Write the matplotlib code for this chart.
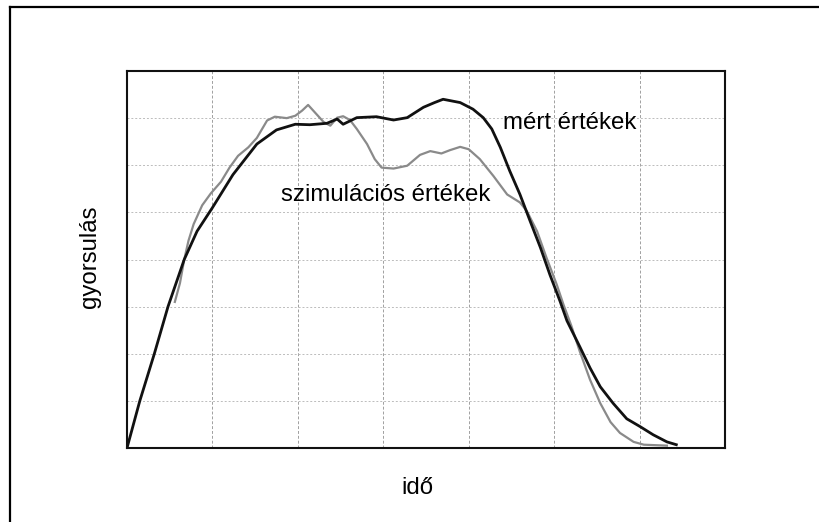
import matplotlib
matplotlib.use("Agg")
import matplotlib.pyplot as plt
from matplotlib.lines import Line2D

mert_x = [0, 0.15, 0.32, 0.48, 0.67, 0.82, 1.0, 1.24, 1.52, 1.75, 1.97, 2.14, 2.34, 2.46,
          2.53, 2.69, 2.92, 3.12, 3.28, 3.47, 3.60, 3.70, 3.90, 4.05, 4.17, 4.27, 4.37,
          4.48, 4.60, 4.72, 4.84, 4.95, 5.07, 5.15, 5.30, 5.42, 5.54, 5.69, 5.85, 6.01,
          6.16, 6.32, 6.43]
mert_y = [0, 1.0, 2.0, 3.0, 4.0, 4.6, 5.1, 5.8, 6.45, 6.75, 6.87, 6.86, 6.89, 6.98,
          6.87, 7.01, 7.03, 6.96, 7.01, 7.23, 7.33, 7.40, 7.33, 7.19, 7.01, 6.77, 6.38,
          5.88, 5.38, 4.81, 4.25, 3.68, 3.11, 2.70, 2.15, 1.70, 1.30, 0.95, 0.62, 0.45,
          0.28, 0.13, 0.07]

# Simulated curve (szimulációs értékek)
szim_x = [0.56, 0.62, 0.67, 0.72, 0.78, 0.88, 0.98, 1.10, 1.20, 1.30, 1.42, 1.52, 1.64,
          1.73, 1.87, 1.97, 2.05, 2.12, 2.20, 2.30, 2.38, 2.46, 2.53, 2.61, 2.69, 2.81,
          2.90, 2.98, 3.12, 3.28, 3.43, 3.55, 3.68, 3.78, 3.90, 4.00, 4.13, 4.29, 4.45,
          4.60, 4.68, 4.80, 4.91, 5.03, 5.11, 5.20, 5.30, 5.42, 5.54, 5.66, 5.77, 5.93,
          6.05, 6.32]
szim_y = [3.1, 3.5, 4.0, 4.4, 4.75, 5.15, 5.4, 5.65, 5.95, 6.2, 6.38, 6.58, 6.95,
          7.03, 7.0, 7.05, 7.16, 7.28, 7.12, 6.92, 6.84, 7.01, 7.04, 6.96, 6.77, 6.45,
          6.13, 5.95, 5.93, 5.99, 6.22, 6.30, 6.25, 6.32, 6.39, 6.34, 6.13, 5.77, 5.38,
          5.21, 5.03, 4.60, 4.04, 3.47, 3.04, 2.6, 2.05, 1.45, 0.95, 0.55, 0.32, 0.13,
          0.07, 0.05]

x_label = "idő"
y_label = "gyorsulás"
mert_label = "mért értékek"
szim_label = "szimulációs értékek"

plt.rcParams['font.family'] = ['Liberation Sans', 'DejaVu Sans']

fig = plt.figure(figsize=(8.2, 5.22), dpi=100)
ax = fig.add_axes([127 / 820, 74 / 522, 598 / 820, 377 / 522])

# grid of the scanned paper, 7 columns x 8 rows
for gx in range(1, 7):
    ax.axvline(gx, color="#a0a0a0", lw=0.7, ls=(0, (3, 2)), zorder=1)
for gy in range(1, 8):
    ax.axhline(gy, color="#bcbcbc", lw=0.7, ls=(0, (2, 2)), zorder=1)

ax.plot(szim_x, szim_y, color="#8a8a8a", lw=1.6, zorder=2)
ax.plot(mert_x, mert_y, color="#111111", lw=2.0, zorder=3)

ax.text(4.40, 6.77, mert_label, fontsize=17.3, va="baseline", ha="left")
ax.text(1.80, 5.24, szim_label, fontsize=17.3, va="baseline", ha="left")

ax.set_xlim(0, 7)
ax.set_ylim(0, 8)
ax.set_xticks([])
ax.set_yticks([])
for side in ax.spines.values():
    side.set_linewidth(1.5)
    side.set_color("#111111")

fig.text(417 / 820, (522 - 494) / 522, x_label, fontsize=17.3, ha="center", va="baseline")
fig.text(90 / 820, (522 - 257) / 522, y_label, fontsize=17.3, rotation=90,
         ha="center", va="center")

# outer frame (only top and left edges are visible in the crop)
fig.add_artist(Line2D([10 / 820, 1.0], [1 - 7 / 522, 1 - 7 / 522], color="black", lw=1.6))
fig.add_artist(Line2D([10 / 820, 10 / 820], [0.0, 1 - 7 / 522], color="black", lw=1.6))

fig.savefig("out.png", dpi=100)
